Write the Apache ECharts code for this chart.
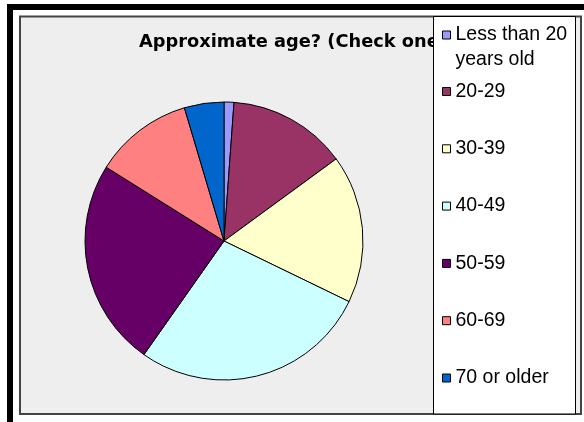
<!DOCTYPE html>
<html>
<head>
<meta charset="utf-8">
<script src="https://cdn.jsdelivr.net/npm/echarts@6/dist/echarts.min.js"></script>
<style>
  html, body { margin: 0; padding: 0; background: #fff; }
  #chart { width: 584px; height: 422px; }
</style>
</head>
<body>
<div id="chart"></div>
<script>
// 年龄段与人数（按饼图角度估读）
var categories = ['Less than 20 years old', '20-29', '30-39', '40-49', '50-59', '60-69', '70 or older'];
var counts = [1, 12, 15, 24, 21, 10, 4];
var colors = ['#9999FF', '#993366', '#FFFFCC', '#CCFFFF', '#660066', '#FF8080', '#0066CC'];
var titleText = 'Approximate age? (Check one)';

var pieData = categories.map(function (name, i) {
    return { name: name, value: counts[i], itemStyle: { color: colors[i] } };
});

var legendText = {
    fontFamily: 'Liberation Sans, Arial, sans-serif',
    fontSize: 19.5,
    color: '#000',
    lineHeight: 25
};

var myChart = echarts.init(document.getElementById('chart'));
myChart.setOption({
    animation: false,
    backgroundColor: '#fff',
    graphic: [
        // 外框黑边
        { type: 'rect', shape: { x: 7, y: 4, width: 577, height: 6 }, style: { fill: '#000' }, z: 0 },
        { type: 'rect', shape: { x: 7, y: 4, width: 6, height: 418 }, style: { fill: '#000' }, z: 0 },
        // 图表区
        { type: 'rect', shape: { x: 20, y: 16.5, width: 561, height: 397.5 },
          style: { fill: '#EEEEEE', stroke: '#444', lineWidth: 2 }, z: 0 },
        // 图例框
        { type: 'rect', shape: { x: 433.5, y: 16.5, width: 142, height: 397.5 },
          style: { fill: '#fff', stroke: '#000', lineWidth: 1 }, z: 8 }
    ],
    title: {
        text: titleText,
        left: 139,
        top: 33,
        padding: 0,
        z: 2,
        textStyle: {
            fontFamily: 'DejaVu Sans',
            fontWeight: 'bold',
            fontSize: 17.8,
            color: '#000'
        }
    },
    legend: [
        {
            // 第一项两行，空首行让图标对齐第一行文字
            data: [categories[0]],
            orient: 'vertical',
            left: 442,
            top: -2.5,
            padding: 0,
            itemWidth: 8,
            itemHeight: 8,
            z: 10,
            selectedMode: false,
            icon: 'rect',
            itemStyle: { borderColor: '#000', borderWidth: 1 },
            formatter: function (n) { return '\n' + n.replace(' years', '\nyears'); },
            textStyle: legendText
        },
        {
            data: categories.slice(1),
            orient: 'vertical',
            left: 442,
            top: 79,
            padding: 0,
            itemGap: 32.3,
            itemWidth: 8,
            itemHeight: 8,
            z: 10,
            selectedMode: false,
            icon: 'rect',
            itemStyle: { borderColor: '#000', borderWidth: 1 },
            textStyle: legendText
        }
    ],
    series: [{
        name: 'Age',
        type: 'pie',
        center: [224, 241],
        radius: 139,
        startAngle: 90,
        clockwise: true,
        z: 3,
        label: { show: false },
        labelLine: { show: false },
        itemStyle: { borderColor: '#000', borderWidth: 1 },
        emphasis: { disabled: true },
        data: pieData
    }]
});
</script>
</body>
</html>
